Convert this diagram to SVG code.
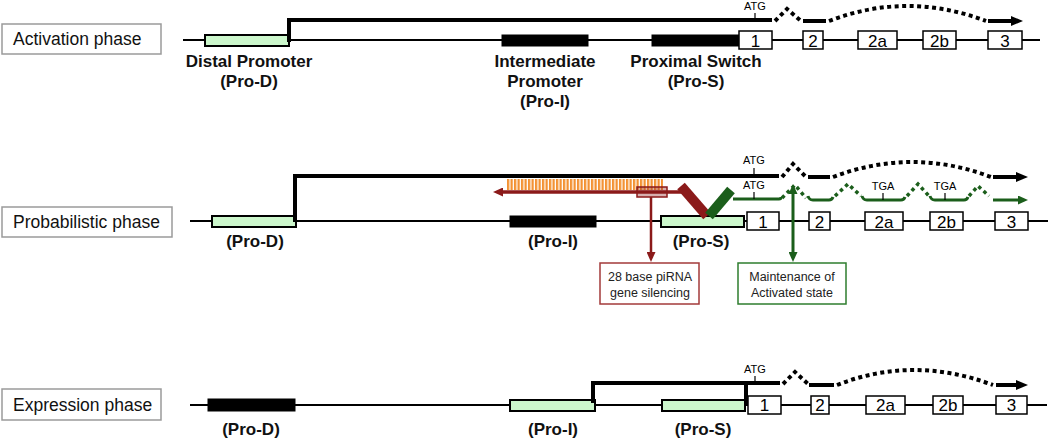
<svg xmlns="http://www.w3.org/2000/svg" width="1050" height="440" viewBox="0 0 1050 440">
<defs>
<style>
.phase{fill:#fff;stroke:#9a9a9a;stroke-width:1.5}
.phaset{font-family:"Liberation Sans",Arial,sans-serif;font-size:17.5px;fill:#111}
.base{stroke:#000;stroke-width:2;fill:none}
.pg{fill:#ccf7cc;stroke:#000;stroke-width:2}
.pb{fill:#000;stroke:#000;stroke-width:1}
.ex{fill:#fff;stroke:#000;stroke-width:1.5}
.ext{font-family:"Liberation Sans",Arial,sans-serif;font-size:17px;fill:#000;text-anchor:middle}
.lab{font-family:"Liberation Sans",Arial,sans-serif;font-size:17px;font-weight:bold;fill:#111;text-anchor:middle}
.small{font-family:"Liberation Sans",Arial,sans-serif;font-size:11px;fill:#000;text-anchor:middle}
.bt{font-family:"Liberation Sans",Arial,sans-serif;font-size:12.5px;fill:#222;text-anchor:middle}
.tk{stroke:#000;stroke-width:4;fill:none}
.tkd{stroke:#000;stroke-width:4;fill:none;stroke-dasharray:4 3.5}
.gn{stroke:#1b5e1b;stroke-width:3;fill:none}
.gnd{stroke:#1b5e1b;stroke-width:3.5;fill:none;stroke-dasharray:3.5 3.5}
.tick{stroke:#000;stroke-width:1.2}
</style>
<marker id="ab" markerUnits="userSpaceOnUse" markerWidth="12" markerHeight="10" refX="0" refY="5" orient="auto"><path d="M0,0 L12,5 L0,10 z" fill="#000"/></marker>
<marker id="ag" markerUnits="userSpaceOnUse" markerWidth="10" markerHeight="9" refX="0" refY="4.5" orient="auto"><path d="M0,0 L10,4.5 L0,9 z" fill="#1b5e1b"/></marker>
<marker id="ar" markerUnits="userSpaceOnUse" markerWidth="10" markerHeight="9" refX="0" refY="4.5" orient="auto"><path d="M0,0 L10,4.5 L0,9 z" fill="#8b1a1a"/></marker>
<pattern id="stripes" patternUnits="userSpaceOnUse" x="507" y="0" width="3.5" height="20"><rect width="3.5" height="20" fill="#fff"/><rect width="2.3" height="20" fill="#f39233"/></pattern>
</defs>
<rect width="1050" height="440" fill="#fff"/>

<!-- Phase labels -->
<g id="phase-activation"><rect class="phase" x="2" y="24" width="159" height="30"/><text class="phaset" x="13" y="45">Activation phase</text></g>
<g id="phase-probabilistic"><rect class="phase" x="2" y="207" width="170" height="30"/><text class="phaset" x="13" y="228">Probabilistic phase</text></g>
<g id="phase-expression"><rect class="phase" x="2" y="389" width="159" height="31"/><text class="phaset" x="13" y="411">Expression phase</text></g>

<!-- Row 1 -->
<g id="row1-gene">
<line class="base" x1="183" y1="40" x2="1040" y2="40"/>
</g>
<g id="r1-prod"><rect class="pg" x="205" y="35" width="84" height="11"/><text class="lab" x="249" y="67">Distal Promoter</text><text class="lab" x="249" y="87">(Pro-D)</text></g>
<g id="r1-proi"><rect class="pb" x="502" y="35" width="86" height="11"/><text class="lab" x="545" y="67">Intermediate</text><text class="lab" x="545" y="87">Promoter</text><text class="lab" x="545" y="107">(Pro-I)</text></g>
<g id="r1-pros"><rect class="pb" x="652" y="35" width="87" height="11"/><text class="lab" x="696" y="67">Proximal Switch</text><text class="lab" x="696" y="87">(Pro-S)</text></g>
<g id="r1-ex1"><rect class="ex" x="739" y="31" width="33" height="18"/><text class="ext" x="755.5" y="46.5">1</text></g>
<g id="r1-ex2"><rect class="ex" x="803" y="31" width="20" height="18"/><text class="ext" x="813" y="46.5">2</text></g>
<g id="r1-ex2a"><rect class="ex" x="858" y="31" width="39" height="18"/><text class="ext" x="877.5" y="46.5">2a</text></g>
<g id="r1-ex2b"><rect class="ex" x="923" y="31" width="33" height="18"/><text class="ext" x="939.5" y="46.5">2b</text></g>
<g id="r1-ex3"><rect class="ex" x="988" y="31" width="34" height="18"/><text class="ext" x="1005" y="46.5">3</text></g>

<!-- Row 2 -->
<g id="row2-gene">
<line class="base" x1="190" y1="221" x2="1048" y2="221"/>
</g>
<g id="r2-prod"><rect class="pg" x="212" y="216" width="84" height="11"/><text class="lab" x="255" y="247">(Pro-D)</text></g>
<g id="r2-proi"><rect class="pb" x="510" y="216" width="86" height="11"/><text class="lab" x="553" y="247">(Pro-I)</text></g>
<g id="r2-pros"><rect class="pg" x="661" y="216" width="83" height="11"/><text class="lab" x="701" y="247">(Pro-S)</text></g>
<g id="r2-ex1"><rect class="ex" x="747" y="212" width="32" height="18"/><text class="ext" x="763" y="227.5">1</text></g>
<g id="r2-ex2"><rect class="ex" x="809" y="212" width="21" height="18"/><text class="ext" x="819.5" y="227.5">2</text></g>
<g id="r2-ex2a"><rect class="ex" x="865" y="212" width="38" height="18"/><text class="ext" x="884" y="227.5">2a</text></g>
<g id="r2-ex2b"><rect class="ex" x="930" y="212" width="33" height="18"/><text class="ext" x="946.5" y="227.5">2b</text></g>
<g id="r2-ex3"><rect class="ex" x="995" y="212" width="33" height="18"/><text class="ext" x="1011.5" y="227.5">3</text></g>
<g id="pirna-box"><rect x="600" y="263" width="99" height="41" fill="#fff" stroke="#a33a3a" stroke-width="1.5"/><text class="bt" x="650" y="281">28 base piRNA</text><text class="bt" x="650" y="297">gene silencing</text></g>
<g id="maint-box"><rect x="738" y="263" width="108" height="41" fill="#fff" stroke="#2e7d2e" stroke-width="1.5"/><text class="bt" x="792" y="281">Maintenance of</text><text class="bt" x="792" y="297">Activated state</text></g>

<!-- Row 3 -->
<g id="row3-gene">
<line class="base" x1="190" y1="405" x2="1047" y2="405"/>
</g>
<g id="r3-prod"><rect class="pb" x="208" y="399" width="87" height="12"/><text class="lab" x="251" y="435">(Pro-D)</text></g>
<g id="r3-proi"><rect class="pg" x="510" y="400" width="85" height="11"/><text class="lab" x="553" y="435">(Pro-I)</text></g>
<g id="r3-pros"><rect class="pg" x="662" y="400" width="83" height="11"/><text class="lab" x="703" y="435">(Pro-S)</text></g>
<g id="r3-ex1"><rect class="ex" x="748" y="396" width="33" height="18"/><text class="ext" x="764.5" y="411">1</text></g>
<g id="r3-ex2"><rect class="ex" x="811" y="396" width="18" height="18"/><text class="ext" x="820" y="411">2</text></g>
<g id="r3-ex2a"><rect class="ex" x="866" y="396" width="39" height="18"/><text class="ext" x="885.5" y="411">2a</text></g>
<g id="r3-ex2b"><rect class="ex" x="933" y="396" width="30" height="18"/><text class="ext" x="948" y="411">2b</text></g>
<g id="r3-ex3"><rect class="ex" x="996" y="396" width="31" height="18"/><text class="ext" x="1011.5" y="411">3</text></g>

<!-- Connectors -->
<g id="connectors">
<!-- Row 1 transcript -->
<path class="tk" d="M289,42 L289,20 L772,20"/>
<line class="tick" x1="755" y1="13" x2="755" y2="20"/>
<text class="small" x="755" y="10">ATG</text>
<path class="tkd" d="M775,21 L787,9 L801,21"/>
<line class="tk" x1="803" y1="21" x2="826" y2="21"/>
<path class="tkd" d="M829,21 Q907,-9 986,21"/>
<line class="tk" x1="988" y1="21" x2="1011" y2="21" marker-end="url(#ab)"/>

<!-- Row 2 transcript -->
<path class="tk" d="M295,222 L295,176 L779,176"/>
<line class="tick" x1="754" y1="168" x2="754" y2="176"/>
<text class="small" x="754" y="164">ATG</text>
<path class="tkd" d="M782,177 L793,164 L806,177"/>
<line class="tk" x1="808" y1="177" x2="830" y2="177"/>
<path class="tkd" d="M833,177 Q912,147 991,177"/>
<line class="tk" x1="993" y1="177" x2="1016" y2="177" marker-end="url(#ab)"/>

<!-- piRNA -->
<rect x="507" y="179" width="156" height="11" fill="url(#stripes)"/>
<line x1="682" y1="192" x2="503" y2="192" stroke="#8b1a1a" stroke-width="3.5" marker-end="url(#ar)"/>
<rect x="637" y="187" width="30" height="10" fill="#8b1a1a" fill-opacity="0.35" stroke="#8b1a1a" stroke-width="1.5"/>
<line x1="651" y1="197" x2="651" y2="252" stroke="#8b1a1a" stroke-width="2.5" marker-end="url(#ar)"/>
<line x1="681" y1="186" x2="707" y2="216" stroke="#8b1a1a" stroke-width="10"/>
<line x1="709" y1="216" x2="731" y2="190" stroke="#1b5e1b" stroke-width="10"/>

<!-- Green transcript -->
<path class="gn" d="M733,199 L779,199 Q781,199 781,197"/>
<line class="tick" x1="754" y1="192" x2="754" y2="199"/>
<text class="small" x="754" y="189">ATG</text>
<path class="gnd" d="M782,198 L795,185 L806,198"/>
<path class="gn" d="M808,196 Q809,200 813,200 L829,200 Q832,200 833,197"/>
<path class="gnd" d="M835,196 L848,184 L861,196"/>
<path class="gn" d="M862,196 Q863,200 867,200 L901,200 Q904,200 905,197"/>
<line class="tick" x1="883" y1="193" x2="883" y2="200"/>
<text class="small" x="883" y="190">TGA</text>
<path class="gnd" d="M907,196 L918,184 L929,196"/>
<path class="gn" d="M930,196 Q931,200 935,200 L964,200 Q967,200 968,197"/>
<line class="tick" x1="945" y1="193" x2="945" y2="200"/>
<text class="small" x="945" y="190">TGA</text>
<path class="gnd" d="M969,196 L978,186 L989,196"/>
<line class="gn" x1="993" y1="200" x2="1018" y2="200" marker-end="url(#ag)"/>
<line x1="793" y1="196" x2="793" y2="252" stroke="#1b5e1b" stroke-width="3" marker-end="url(#ag)"/>
<line x1="793" y1="196" x2="793" y2="194" stroke="#1b5e1b" stroke-width="3" marker-end="url(#ag)"/>

<!-- Row 3 transcript -->
<path class="tk" d="M593,403 L593,383 L780,383"/>
<line class="tk" x1="746" y1="383" x2="746" y2="405"/>
<line class="tick" x1="755" y1="376" x2="755" y2="383"/>
<text class="small" x="755" y="373">ATG</text>
<path class="tkd" d="M783,384 L795,372 L808,384"/>
<line class="tk" x1="809" y1="385" x2="834" y2="385"/>
<path class="tkd" d="M837,385 Q913,355 993,385"/>
<line class="tk" x1="996" y1="385" x2="1016" y2="385" marker-end="url(#ab)"/>
</g>
</svg>
